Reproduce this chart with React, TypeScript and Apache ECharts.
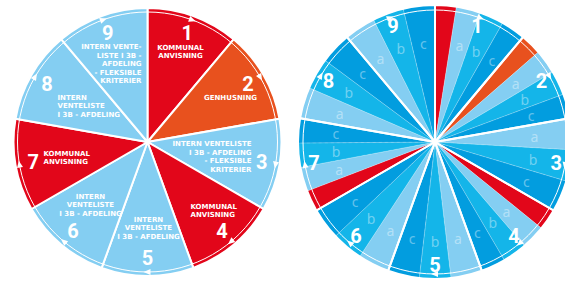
import React, { useEffect, useRef } from 'react';
import * as echarts from 'echarts';

// ---- data ----
const steps = ['1', '2', '3', '4', '5', '6', '7', '8', '9'];
const stepKinds = ['red', 'orange', 'blue', 'red', 'blue', 'blue', 'red', 'blue', 'blue'];
const stepShares = [1, 1, 1, 1, 1, 1, 1, 1, 1];
const stepTexts = [
  'KOMMUNAL\nANVISNING',
  'GENHUSNING',
  'INTERN VENTELISTE\nI 3B - AFDELING\n- FLEKSIBLE\nKRITERIER',
  'KOMMUNAL\nANVISNING',
  'INTERN\nVENTELISTE\nI 3B - AFDELING',
  'INTERN\nVENTELISTE\nI 3B - AFDELING',
  'KOMMUNAL\nANVISNING',
  'INTERN\nVENTELISTE\nI 3B - AFDELING',
  'INTERN VENTE-\nLISTE I 3B -\nAFDELING\n- FLEKSIBLE\nKRITERIER',
];

const subKinds = [
  'red', 'a', 'b', 'c',
  'orange', 'a', 'b', 'c',
  'a', 'b', 'c',
  'red', 'a', 'b', 'c',
  'a', 'b', 'c',
  'a', 'b', 'c',
  'red', 'a', 'b', 'c',
  'a', 'b', 'c',
  'a', 'b', 'c',
];
const subValues = [
  9, 10.3, 10.3, 10.4,
  9, 10.3, 10.3, 10.4,
  13.3, 13.3, 13.4,
  9, 10.3, 10.3, 10.4,
  13.3, 13.3, 13.4,
  13.3, 13.3, 13.4,
  9, 10.3, 10.3, 10.4,
  13.3, 13.3, 13.4,
  13.3, 13.3, 13.4,
];

// ---- layout / style ----
const COLORS: Record<string, string> = {
  red: '#e2061a',
  orange: '#e8511e',
  blue: '#84cef2',
  a: '#84cef2',
  b: '#14b5e9',
  c: '#029ddf',
};
const CY = 142;
const CXL = 147.5;
const RL = 134;
const CXR = 435;
const RR = 137;
// text block anchors relative to left centre: dx, dy, align
const leftTextPos: [number, number, string][] = [
  [33, -90, 'center'],
  [83, -44, 'center'],
  [104, 15, 'right'],
  [43, 69, 'left'],
  [1, 86, 'center'],
  [-57, 63, 'center'],
  [-104, 16, 'left'],
  [-90, -36, 'left'],
  [-6, -78, 'right'],
];

function arrowPoints(cx: number, cy: number, r: number, deg: number) {
  const t = (deg * Math.PI) / 180;
  const px = cx + r * Math.sin(t);
  const py = cy - r * Math.cos(t);
  const tx = Math.cos(t), ty = Math.sin(t);
  const nx = Math.sin(t), ny = -Math.cos(t);
  const L = 4, B = 3, W = 3;
  return [
    [px + tx * L, py + ty * L],
    [px - tx * B + nx * W, py - ty * B + ny * W],
    [px - tx * B - nx * W, py - ty * B - ny * W],
  ];
}

export default function App() {
  const ref = useRef<HTMLDivElement>(null);
  useEffect(() => {
    if (!ref.current) return;
    const chart = echarts.init(ref.current, undefined, { renderer: 'svg' });
    const total = stepShares.reduce((a, b) => a + b, 0);
    const midAngles: number[] = [];
    let acc = 0;
    stepShares.forEach((s) => {
      midAngles.push(((acc + s / 2) / total) * 360);
      acc += s;
    });

    const numberLabel = {
      show: true,
      position: 'inside',
      rotate: 0,
      formatter: '{b}',
      color: '#fff',
      fontSize: 20,
      lineHeight: 17,
      fontWeight: 'bold',
      fontFamily: 'Roboto',
    };
    const common = {
      type: 'pie',
      startAngle: 90,
      clockwise: true,
      silent: true,
      avoidLabelOverlap: false,
      labelLine: { show: false },
      emphasis: { disabled: true },
    };

    const graphics: any[] = [];
    graphics.push({
      type: 'circle', z: 100, silent: true,
      shape: { cx: CXL, cy: CY, r: RL - 4 },
      style: { fill: 'none', stroke: '#fff', lineWidth: 1 },
    });
    graphics.push({
      type: 'circle', z: 100, silent: true,
      shape: { cx: CXR, cy: CY, r: RR - 5 },
      style: { fill: 'none', stroke: '#fff', lineWidth: 1 },
    });
    midAngles.forEach((a) => {
      graphics.push({
        type: 'polygon', z: 101, silent: true,
        shape: { points: arrowPoints(CXL, CY, RL - 4, a) },
        style: { fill: '#fff' },
      });
      graphics.push({
        type: 'polygon', z: 101, silent: true,
        shape: { points: arrowPoints(CXR, CY, RR - 5, a) },
        style: { fill: '#fff' },
      });
    });
    stepTexts.forEach((t, i) => {
      const [dx, dy, align] = leftTextPos[i];
      graphics.push({
        type: 'text', z: 102, silent: true,
        x: CXL + dx, y: CY + dy,
        style: {
          text: t,
          fill: '#ffffff',
          fontSize: 7,
          fontWeight: 'bold',
          fontFamily: 'DejaVu Sans',
          lineHeight: 8.5,
          align,
          verticalAlign: 'middle',
        },
      });
    });

    chart.setOption({
      animation: false,
      graphic: { elements: graphics },
      series: [
        {
          ...common,
          center: [CXL, CY],
          radius: [0, RL],
          label: { show: false },
          itemStyle: { borderColor: '#fff', borderWidth: 2 },
          data: steps.map((s, i) => ({
            name: s, value: stepShares[i],
            itemStyle: { color: COLORS[stepKinds[i]] },
          })),
        },
        {
          ...common,
          center: [CXL, CY],
          radius: [92, RL],
          label: numberLabel,
          itemStyle: { color: 'rgba(0,0,0,0)', borderWidth: 0 },
          data: steps.map((s, i) => ({ name: s, value: stepShares[i] })),
        },
        {
          ...common,
          center: [CXR, CY],
          radius: [0, RR],
          label: { show: false },
          itemStyle: { borderColor: 'rgba(255,255,255,0.7)', borderWidth: 0.6, borderType: 'dotted' },
          data: subKinds.map((k, i) => ({
            name: k, value: subValues[i],
            itemStyle: { color: COLORS[k] },
          })),
        },
        {
          ...common,
          center: [CXR, CY],
          radius: [56, RR],
          label: {
            show: true,
            position: 'inside',
            rotate: 0,
            formatter: (p: any) => (p.name.length === 1 ? p.name : ''),
            color: 'rgba(255,255,255,0.4)',
            fontSize: 14,
            lineHeight: 12,
            fontFamily: 'Noto Sans',
          },
          itemStyle: { color: 'rgba(0,0,0,0)', borderWidth: 0 },
          data: subKinds.map((k, i) => ({ name: k, value: subValues[i] })),
        },
        {
          ...common,
          center: [CXR, CY],
          radius: [0, RR],
          label: { show: false },
          itemStyle: { color: 'rgba(0,0,0,0)', borderColor: '#fff', borderWidth: 2 },
          data: steps.map((s, i) => ({ name: s, value: stepShares[i] })),
        },
        {
          ...common,
          center: [CXR, CY],
          radius: [103, RR],
          label: numberLabel,
          itemStyle: { color: 'rgba(0,0,0,0)', borderWidth: 0 },
          data: steps.map((s, i) => ({ name: s, value: stepShares[i] })),
        },
      ],
    });
    return () => chart.dispose();
  }, []);
  return (
    <div
      ref={ref}
      style={{ position: 'fixed', left: 0, top: 0, width: 565, height: 282, background: '#fff' }}
    />
  );
}
